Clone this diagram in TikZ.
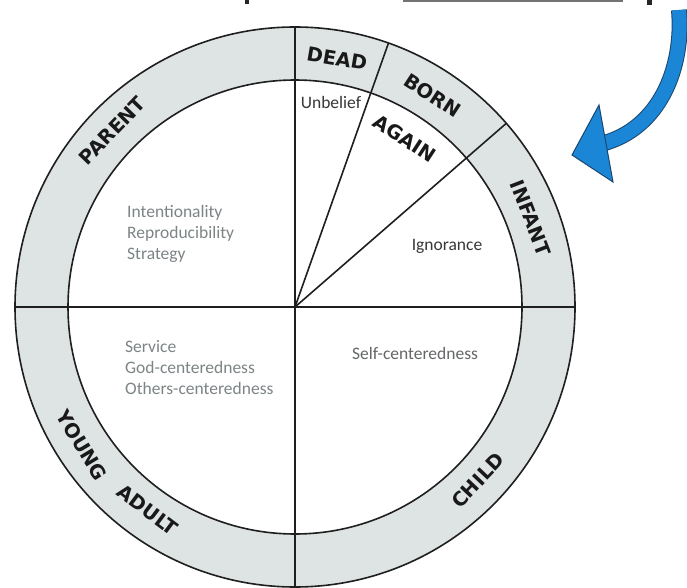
\documentclass[tikz,border=0pt]{standalone}
\usepackage{fontspec}
\newfontfamily\lblfont{DejaVu Sans}
\newfontfamily\innerfont{Carlito}
\definecolor{ringgrey}{RGB}{222,228,227}
\definecolor{softgrey}{RGB}{125,132,133}
\definecolor{midgrey}{RGB}{100,102,104}
\definecolor{darkgrey}{RGB}{55,55,57}
\definecolor{arrowblue}{RGB}{28,134,214}
\definecolor{arrowedge}{RGB}{25,70,110}
\tikzset{
  ln/.style={line width=1.6pt, draw=black!88},
  ringlbl/.style={inner sep=0pt, font=\lblfont\bfseries\fontsize{19.5}{21}\selectfont, text=black!90},
  innerlbl/.style={inner sep=0pt, align=left, font=\innerfont\fontsize{17.5}{21}\selectfont}
}
\begin{document}
\begin{tikzpicture}[x=1pt,y=1pt]
\useasboundingbox (0,0) rectangle (687,587);
\coordinate (O) at (295,280);
% ring
\fill[ringgrey] (O) circle (280pt);
\fill[white] (O) circle (227pt);
\draw[ln] (O) circle (280pt);
\draw[ln] (O) circle (227pt);
% radial lines
\path (O) ++(90:280pt) coordinate (top);
\path (O) ++(270:280pt) coordinate (bot);
\path (O) ++(180:280pt) coordinate (lft);
\path (O) ++(0:280pt) coordinate (rgt);
\path (O) ++(70.5:280pt) coordinate (d1);
\path (O) ++(41:280pt) coordinate (d2);
\draw[ln] (top) -- (bot);
\draw[ln] (lft) -- (rgt);
\draw[ln] (O) -- (d1);
\draw[ln] (O) -- (d2);
% ring labels
\path (O) ++(80.4:252pt) node[ringlbl, rotate=-9.6] (dead) {DEAD};
\path (O) ++(57:252pt) node[ringlbl, rotate=-33] (born) {BORN};
\path (O) ++(57:201pt) node[ringlbl, rotate=-33] (again) {AGAIN};
\path (O) ++(20.7:252pt) node[ringlbl, rotate=-69] (infant) {INFANT};
\path (O) ++(-43.5:252pt) node[ringlbl, rotate=46.5] (child) {CHILD};
\path (O) ++(213:254pt) node[ringlbl, rotate=-59] (young) {YOUNG};
\path (O) ++(234:251pt) node[ringlbl, rotate=-37] (adult) {ADULT};
\path (O) ++(136:254pt) node[ringlbl, rotate=46] (parent) {PARENT};
% inner texts
\node[innerlbl, text=softgrey, anchor=west] (par) at (127,353) {Intentionality\\Reproducibility\\Strategy};
\node[innerlbl, text=softgrey, anchor=west] (ya) at (125,219) {Service\\God-centeredness\\Others-centeredness};
\node[innerlbl, text=darkgrey] (unb) at (331,485) {Unbelief};
\node[innerlbl, text=darkgrey] (ign) at (447,341) {Ignorance};
\node[innerlbl, text=midgrey] (self) at (415,234) {Self-centeredness};
% blue arrow
\coordinate (as) at (679,577);
\coordinate (ae) at (601,443);
\coordinate (tip) at (572,432);
\coordinate (hc1) at (599,482);
\coordinate (hc2) at (613,405);
\draw[line width=16pt, arrowedge] (as) .. controls (684,520) and (660,458) .. (ae);
\draw[line width=14pt, arrowblue] (as) .. controls (684,520) and (660,458) .. (ae);
\filldraw[fill=arrowblue, draw=arrowedge, line width=1pt, line join=miter] (tip) -- (hc1) -- (hc2) -- cycle;
% cut-off fragments of the text above
\fill[black!85] (245,583) rectangle (249,587);
\fill[black!85] (647,582) rectangle (652,587);
\draw[line width=1.5pt, black!55] (403,586) -- (623,586);
\end{tikzpicture}
\end{document}
